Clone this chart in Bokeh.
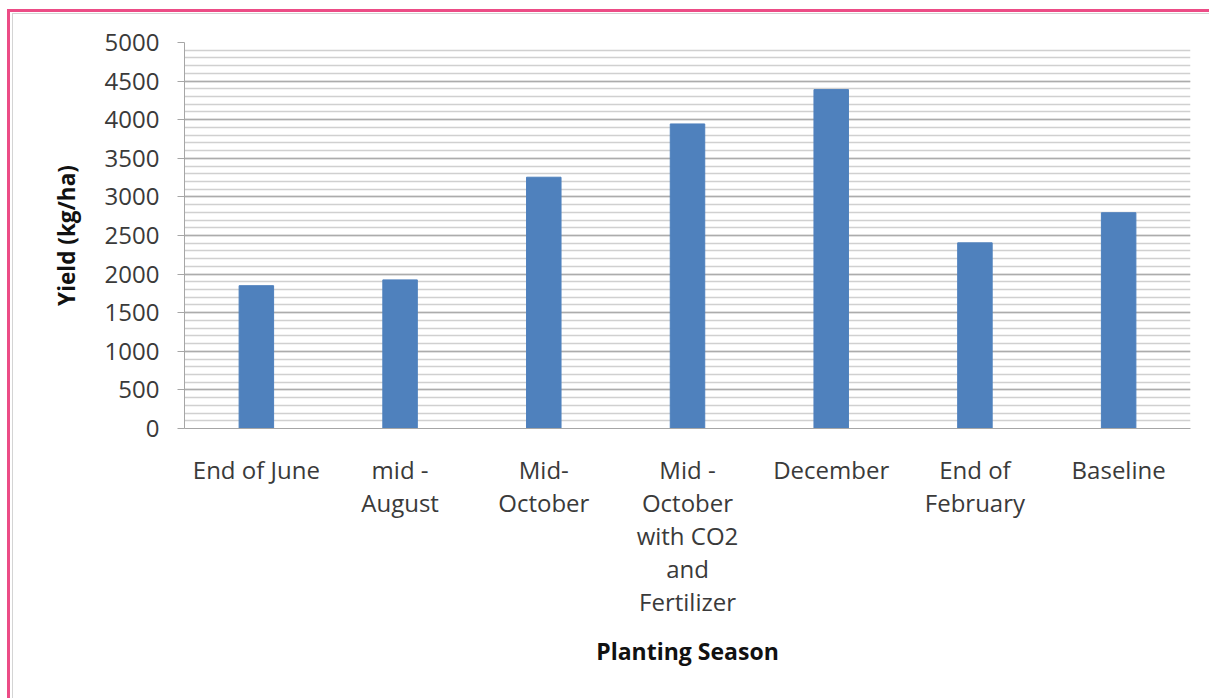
from bokeh.plotting import figure
from bokeh.models import FactorRange, Range1d, SingleIntervalTicker
from bokeh.embed import file_html
from bokeh.resources import INLINE

# Planting seasons and simulated yield (kg/ha)
seasons = [
    "End of June",
    "mid -\nAugust",
    "Mid-\nOctober",
    "Mid -\nOctober\nwith CO2\nand\nFertilizer",
    "December",
    "End of\nFebruary",
    "Baseline",
]
yields = [1850, 1925, 3255, 3945, 4390, 2405, 2795]

y_ticks_interval = 500
y_max = 5000

FONT = "Open Sans"
TEXT_COLOR = "#3a3a3a"

p = figure(
    width=1209, height=698,
    x_range=FactorRange(factors=seasons, range_padding=0),
    y_range=Range1d(0, y_max),
    output_backend="svg", toolbar_location=None,
    min_border_left=184, min_border_right=19,
    min_border_top=42, min_border_bottom=270,
)
p.background_fill_color = "white"
p.border_fill_color = None
p.outline_line_color = None

# page frame: pink rule with a faint grey inner rule, top and left
p.styles = {
    "background-color": "white",
    "background-image": (
        "linear-gradient(#EC4C86, #EC4C86), linear-gradient(#EC4C86, #EC4C86), "
        "linear-gradient(#d4d4d4, #d4d4d4), linear-gradient(#d4d4d4, #d4d4d4)"
    ),
    "background-size": "3px 100%, 100% 3px, 1px 100%, 100% 1px",
    "background-position": "7px 9px, 7px 9px, 12px 13px, 12px 13px",
    "background-repeat": "no-repeat",
}

p.vbar(x=seasons, top=yields, width=0.24, color="#4F81BD", line_color="#4F81BD")

# y axis: major every 500, minor every 100
p.yaxis.ticker = SingleIntervalTicker(interval=y_ticks_interval, num_minor_ticks=5)
p.yaxis.axis_label = "Yield (kg/ha)"
p.yaxis.axis_label_text_font = FONT
p.yaxis.axis_label_text_font_style = "bold"
p.yaxis.axis_label_text_font_size = "22.5px"
p.yaxis.axis_label_text_color = "#111111"
p.yaxis.axis_label_standoff = 20
p.yaxis.major_label_text_font = FONT
p.yaxis.major_label_text_font_size = "24px"
p.yaxis.major_label_text_color = TEXT_COLOR
p.yaxis.major_label_standoff = 18
p.yaxis.major_tick_out = 7
p.yaxis.major_tick_in = 0
p.yaxis.minor_tick_out = 0
p.yaxis.minor_tick_in = 0
p.yaxis.axis_line_color = "#a6a6a6"
p.yaxis.major_tick_line_color = "#a6a6a6"

p.xaxis.axis_label = "Planting Season"
p.xaxis.axis_label_text_font = FONT
p.xaxis.axis_label_text_font_style = "bold"
p.xaxis.axis_label_text_font_size = "23px"
p.xaxis.axis_label_text_color = "#111111"
p.xaxis.axis_label_standoff = 14
p.xaxis.major_label_text_font = FONT
p.xaxis.major_label_text_font_size = "24px"
p.xaxis.major_label_text_color = TEXT_COLOR
p.xaxis.major_label_text_line_height = 1.0
p.xaxis.major_label_standoff = 24
p.xaxis.major_label_orientation = "horizontal"
p.xaxis.major_tick_out = 0
p.xaxis.major_tick_in = 0
p.xaxis.axis_line_color = "#a6a6a6"

p.xgrid.grid_line_color = None
p.ygrid.grid_line_color = "#acacac"
p.ygrid.grid_line_width = 1.5
p.ygrid.minor_grid_line_color = "#d0d0d0"
p.ygrid.minor_grid_line_width = 1.5

open("out.html", "w").write(file_html(p, INLINE))
